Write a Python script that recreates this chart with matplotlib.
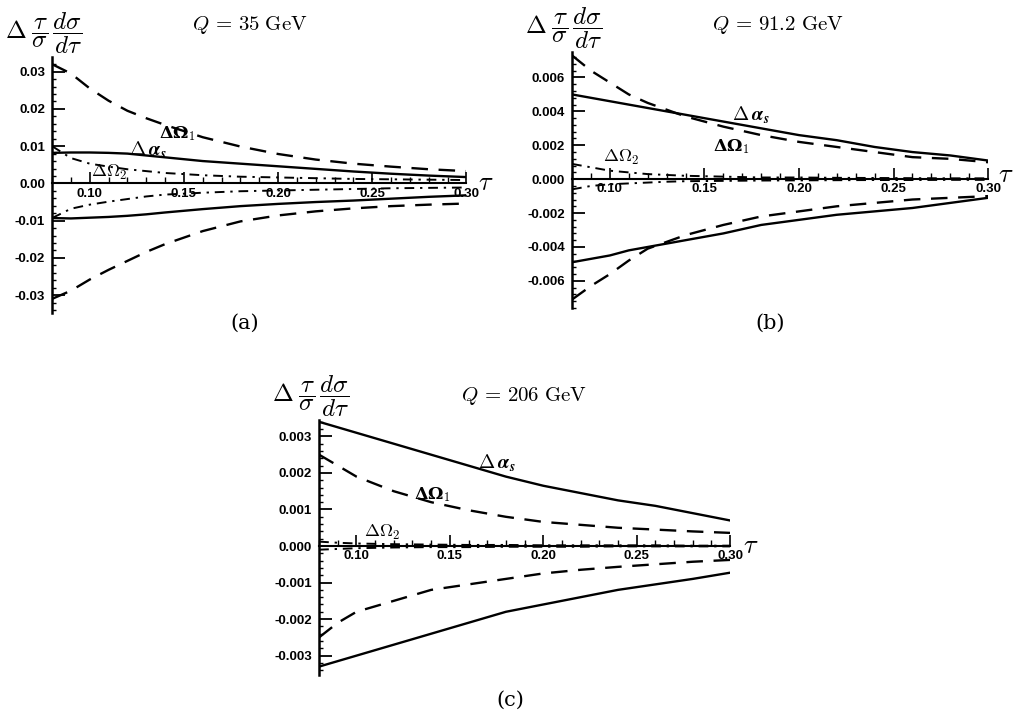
import matplotlib
matplotlib.use("Agg")
import matplotlib.pyplot as plt
from matplotlib.font_manager import FontProperties
from matplotlib.ticker import MultipleLocator, AutoMinorLocator, FormatStrFormatter

plt.rcParams['mathtext.fontset'] = 'cm'

# common tau grid
tau = [0.08, 0.09, 0.10, 0.11, 0.12, 0.13, 0.14, 0.16, 0.18, 0.20, 0.22, 0.24, 0.26, 0.28, 0.30]

# Q = 35 GeV
a_alpha_up = [0.0082, 0.0083, 0.0083, 0.0082, 0.0080, 0.0075, 0.0070, 0.0060, 0.0053, 0.0046, 0.0039, 0.0032, 0.0026, 0.0021, 0.0017]
a_alpha_dn = [-0.0093, -0.0094, -0.0092, -0.0090, -0.0087, -0.0083, -0.0078, -0.0069, -0.0061, -0.0055, -0.0050, -0.0046, -0.0041, -0.0036, -0.0032]
a_om1_up = [0.0320, 0.0295, 0.0255, 0.0222, 0.0195, 0.0175, 0.0157, 0.0124, 0.0099, 0.0079, 0.0064, 0.0053, 0.0045, 0.0038, 0.0033]
a_om1_dn = [-0.0310, -0.0288, -0.0258, -0.0232, -0.0208, -0.0184, -0.0163, -0.0128, -0.0102, -0.0086, -0.0075, -0.0067, -0.0061, -0.0057, -0.0054]
a_om2_up = [0.0100, 0.0068, 0.0053, 0.0045, 0.0038, 0.0033, 0.0028, 0.0022, 0.0018, 0.0016, 0.0014, 0.0012, 0.0011, 0.0010, 0.0009]
a_om2_dn = [-0.0093, -0.0068, -0.0057, -0.0049, -0.0042, -0.0035, -0.0030, -0.0025, -0.0021, -0.0019, -0.0017, -0.0015, -0.0013, -0.0012, -0.0011]

# Q = 91.2 GeV
b_alpha_up = [0.0050, 0.0048, 0.0046, 0.0044, 0.0042, 0.0040, 0.0038, 0.0034, 0.0030, 0.0026, 0.0023, 0.0019, 0.0016, 0.0014, 0.0011]
b_alpha_dn = [-0.0049, -0.0047, -0.0045, -0.0042, -0.0040, -0.0038, -0.0036, -0.0032, -0.0027, -0.0024, -0.0021, -0.0019, -0.0017, -0.0014, -0.0011]
b_om1_up = [0.0073, 0.0064, 0.0057, 0.0050, 0.0045, 0.0041, 0.0037, 0.0031, 0.0026, 0.0022, 0.0019, 0.0016, 0.0013, 0.0012, 0.0010]
b_om1_dn = [-0.0071, -0.0063, -0.0056, -0.0048, -0.0041, -0.0037, -0.0033, -0.0027, -0.0022, -0.0019, -0.0016, -0.0014, -0.0012, -0.0011, -0.0010]
b_om2_up = [0.0009, 0.0007, 0.0005, 0.0004, 0.0003, 0.00025, 0.0002, 0.00015, 0.0001, 0.0001, 0.00008, 0.00007, 0.00006, 0.00005, 0.00005]
b_om2_dn = [-0.0006, -0.0004, -0.0003, -0.00025, -0.0002, -0.00015, -0.00012, -0.0001, -0.00008, -0.00007, -0.00006, -0.00005, -0.00005, -0.00004, -0.00004]

# Q = 206 GeV
c_alpha_up = [0.0034, 0.00325, 0.0031, 0.00295, 0.0028, 0.00265, 0.0025, 0.0022, 0.0019, 0.00165, 0.00145, 0.00125, 0.0011, 0.0009, 0.0007]
c_alpha_dn = [-0.0033, -0.00315, -0.0030, -0.00285, -0.0027, -0.00255, -0.0024, -0.0021, -0.0018, -0.0016, -0.0014, -0.0012, -0.00105, -0.0009, -0.00073]
c_om1_up = [0.0025, 0.0022, 0.0019, 0.0017, 0.0015, 0.00135, 0.0012, 0.00098, 0.0008, 0.00066, 0.00058, 0.0005, 0.00045, 0.0004, 0.00036]
c_om1_dn = [-0.0025, -0.0021, -0.0018, -0.00165, -0.0015, -0.00135, -0.0012, -0.00105, -0.0009, -0.00075, -0.00065, -0.00057, -0.0005, -0.00043, -0.00038]
c_om2_up = [0.00012, 0.00009, 0.00007, 0.00006, 0.00005, 0.000045, 0.00004, 0.00003, 0.00003, 0.00002, 0.00002, 0.00002, 0.00002, 0.00001, 0.00001]
c_om2_dn = [-0.0001, -0.00008, -0.00006, -0.00005, -0.00004, -0.000035, -0.00003, -0.00003, -0.00002, -0.00002, -0.00002, -0.00001, -0.00001, -0.00001, -0.00001]

W, H = 1013, 723

panels = [
    dict(rect=[0.0514, 0.567, 0.409, 0.354], ylim=(-0.0348, 0.0339), step=0.01, fmt='%.2f',
         alpha=(a_alpha_up, a_alpha_dn), om1=(a_om1_up, a_om1_dn), om2=(a_om2_up, a_om2_dn),
         title=r'$Q\,=\,35\ \mathrm{GeV}$', title_at=(250, 25), letter='(a)', letter_at=(245, 323),
         tau_pad=(14, 0),
         lab_alpha=(0.131, 0.0089), lab_om1=(0.1468, 0.0135), lab_om2=(0.1106, 0.0030)),
    dict(rect=[0.5647, 0.574, 0.4107, 0.354], ylim=(-0.0076, 0.0075), step=0.002, fmt='%.3f',
         alpha=(b_alpha_up, b_alpha_dn), om1=(b_om1_up, b_om1_dn), om2=(b_om2_up, b_om2_dn),
         title=r'$Q\,=\,91.2\ \mathrm{GeV}$', title_at=(778, 25), letter='(b)', letter_at=(770, 323),
         tau_pad=(12.5, 3),
         lab_alpha=(0.1747, 0.00376), lab_om1=(0.1642, 0.00194), lab_om2=(0.1058, 0.0013)),
    dict(rect=[0.315, 0.0664, 0.4057, 0.3527], ylim=(-0.00353, 0.00345), step=0.001, fmt='%.3f',
         alpha=(c_alpha_up, c_alpha_dn), om1=(c_om1_up, c_om1_dn), om2=(c_om2_up, c_om2_dn),
         title=r'$Q\,=\,206\ \mathrm{GeV}$', title_at=(524, 396), letter='(c)', letter_at=(510, 700),
         tau_pad=(15, 0),
         lab_alpha=(0.1753, 0.00227), lab_om1=(0.1409, 0.00142), lab_om2=(0.114, 0.00036)),
]

fig = plt.figure(figsize=(W / 100, H / 100), dpi=100)
tickfont = FontProperties(family='Liberation Sans', weight='bold', size=9.5)
dashed = (0, (7, 4.5))
dashdot = (0, (5, 3, 1.2, 3))

for p in panels:
    ax = fig.add_axes(p['rect'])
    ax.patch.set_alpha(0)

    for y in p['alpha']:
        ax.plot(tau, y, color='black', lw=1.7)
    for y in p['om1']:
        ax.plot(tau, y, color='black', lw=1.7, linestyle=dashed)
    for y in p['om2']:
        ax.plot(tau, y, color='black', lw=1.4, linestyle=dashdot)

    ax.set_xlim(0.08, 0.30)
    ax.set_ylim(*p['ylim'])

    # axes crossing at tau = 0.08 and zero
    ax.spines['left'].set_position(('data', 0.08))
    ax.spines['bottom'].set_position(('data', 0.0))
    ax.spines['top'].set_visible(False)
    ax.spines['right'].set_visible(False)
    ax.spines['left'].set_linewidth(1.8)
    ax.spines['bottom'].set_linewidth(1.5)

    ax.xaxis.set_major_locator(MultipleLocator(0.05))
    ax.xaxis.set_minor_locator(MultipleLocator(0.01))
    ax.xaxis.set_major_formatter(FormatStrFormatter('%.2f'))
    ax.yaxis.set_major_locator(MultipleLocator(p['step']))
    ax.yaxis.set_minor_locator(AutoMinorLocator(5))
    ax.yaxis.set_major_formatter(FormatStrFormatter(p['fmt']))
    ax.tick_params(axis='x', which='major', direction='in', length=8, width=1.2, pad=3)
    ax.tick_params(axis='x', which='minor', direction='in', length=4, width=1.0)
    ax.tick_params(axis='y', which='major', direction='in', length=9, width=1.3, pad=5)
    ax.tick_params(axis='y', which='minor', direction='in', length=3, width=1.0)
    for lbl in ax.get_xticklabels() + ax.get_yticklabels():
        lbl.set_fontproperties(tickfont)

    # curve labels
    ax.text(*p['lab_alpha'], r'$\mathbf{\Delta}\,\boldsymbol{\alpha}_{\boldsymbol{s}}$', fontsize=14,
            ha='center', va='center')
    ax.text(*p['lab_om1'], r'ΔΩ$_1$', fontsize=12.5, fontweight='bold', family='DejaVu Serif',
            ha='center', va='center')
    ax.text(*p['lab_om2'], r'$\Delta\Omega_2$', fontsize=13, ha='center', va='center')

    # axis names
    ax.annotate(r'$\mathbf{\Delta}\;\dfrac{\tau}{\sigma}\,\dfrac{d\sigma}{d\tau}$', xy=(0, 1),
                xycoords='axes fraction', xytext=(-34, 1), textcoords='offset points',
                fontsize=18, ha='left', va='bottom')
    ax.annotate(r'$\tau$', xy=(1, 0), xycoords=('axes fraction', 'data'), xytext=p['tau_pad'],
                textcoords='offset points', fontsize=19, ha='center', va='center')

    fig.text(p['title_at'][0] / W, 1 - p['title_at'][1] / H, p['title'], fontsize=15,
             ha='center', va='center')
    fig.text(p['letter_at'][0] / W, 1 - p['letter_at'][1] / H, p['letter'], fontsize=15,
             ha='center', va='center', family='DejaVu Serif')

fig.savefig('out.png', dpi=100)
